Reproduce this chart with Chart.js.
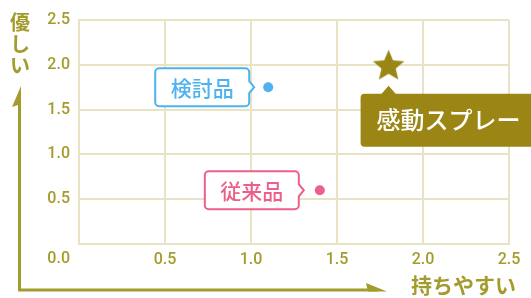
<!DOCTYPE html>
<html lang="ja">
<head>
<meta charset="utf-8">
<script src="https://cdn.jsdelivr.net/npm/chart.js@4/dist/chart.umd.min.js"></script>
<style>
  html, body { margin: 0; padding: 0; background: #ffffff; }
  #wrap { width: 531px; height: 298px; position: relative; }
</style>
</head>
<body>
<div id="wrap"><canvas id="c"></canvas></div>
<script>
// ---- data ----
const products = ['検討品', '従来品', '感動スプレー'];
const easeToHold = [1.1, 1.4, 1.8];      // x: 持ちやすい
const gentleness = [1.75, 0.6, 2.0];     // y: 優しい
const axisMin = 0;
const axisMax = 2.5;
const axisStep = 0.5;
const originLabel = '0.0';
const xTitle = '持ちやすい';
const yTitle = '優しい';

// ---- styles ----
const OLIVE = '#a39b2c';
const GOLD = '#9b8615';
const GRID = '#e9e3c5';
const colors = ['#4db2ee', '#ec5f89', GOLD];
const JP = '"Noto Sans CJK JP", "Noto Sans", sans-serif';

function makeStar(R, r, color) {
  const size = Math.ceil(R * 2 + 2);
  const cv = document.createElement('canvas');
  cv.width = size; cv.height = size;
  const g = cv.getContext('2d');
  g.fillStyle = color;
  g.beginPath();
  for (let i = 0; i < 10; i++) {
    const rad = i % 2 === 0 ? R : r;
    const a = -Math.PI / 2 + i * Math.PI / 5;
    const px = size / 2 + rad * Math.cos(a);
    const py = size / 2 + rad * Math.sin(a) + 1.5;
    if (i === 0) g.moveTo(px, py); else g.lineTo(px, py);
  }
  g.closePath();
  g.lineJoin = 'round';
  g.fill();
  return cv;
}
const starImg = makeStar(16.5, 7.5, GOLD);

const points = products.map((p, i) => ({ x: easeToHold[i], y: gentleness[i] }));

function roundRectPointerRight(ctx, L, T, R, B, r, cy) {
  ctx.beginPath();
  ctx.moveTo(L + r, T);
  ctx.lineTo(R - r, T);
  ctx.arcTo(R, T, R, T + r, r);
  ctx.lineTo(R, cy - 6);
  ctx.lineTo(R + 5, cy);
  ctx.lineTo(R, cy + 6);
  ctx.lineTo(R, B - r);
  ctx.arcTo(R, B, R - r, B, r);
  ctx.lineTo(L + r, B);
  ctx.arcTo(L, B, L, B - r, r);
  ctx.lineTo(L, T + r);
  ctx.arcTo(L, T, L + r, T, r);
  ctx.closePath();
}

const decorPlugin = {
  id: 'decor',
  afterDraw(chart) {
    const ctx = chart.ctx;
    const ca = chart.chartArea;
    const meta = chart.getDatasetMeta(0);
    ctx.save();

    // origin label
    ctx.fillStyle = OLIVE;
    ctx.font = '500 16px Roboto, "Noto Sans", sans-serif';
    ctx.textAlign = 'right';
    ctx.textBaseline = 'middle';
    ctx.fillText(originLabel, ca.left - 9, ca.bottom + 15);

    // axis arrows (L-shape)
    ctx.strokeStyle = OLIVE;
    ctx.fillStyle = OLIVE;
    ctx.lineWidth = 3;
    ctx.lineCap = 'butt';
    ctx.beginPath();
    ctx.moveTo(19.5, 100);
    ctx.lineTo(19.5, 290);
    ctx.lineTo(378, 290);
    ctx.stroke();
    // vertical arrowhead (left barb)
    ctx.beginPath();
    ctx.moveTo(21, 86);
    ctx.lineTo(12, 107);
    ctx.lineTo(21, 104);
    ctx.closePath();
    ctx.fill();
    // horizontal arrowhead (upper barb)
    ctx.beginPath();
    ctx.moveTo(387, 291.5);
    ctx.lineTo(366, 283);
    ctx.lineTo(368, 291.5);
    ctx.closePath();
    ctx.fill();

    // axis titles
    ctx.font = 'bold 20px ' + JP;
    ctx.textAlign = 'center';
    ctx.textBaseline = 'middle';
    const ys = [22, 44, 65];
    [...yTitle].forEach((ch, i) => ctx.fillText(ch, 20, ys[i]));
    ctx.font = 'bold 21px ' + JP;
    ctx.textAlign = 'left';
    ctx.fillText(xTitle, 411, 285);

    // callouts
    meta.data.forEach((el, i) => {
      const px = el.x, py = el.y;
      if (i < 2) {
        const gap = i === 0 ? 19 : 21;
        const w = 94, h = 38;
        const R = px - gap, L = R - w, T = py - h / 2, B = py + h / 2;
        roundRectPointerRight(ctx, L, T, R, B, 4, py);
        ctx.fillStyle = '#ffffff';
        ctx.fill();
        ctx.lineWidth = 2;
        ctx.strokeStyle = colors[i];
        ctx.stroke();
        ctx.fillStyle = colors[i];
        ctx.font = '500 21px ' + JP;
        ctx.textAlign = 'center';
        ctx.textBaseline = 'middle';
        ctx.fillText(products[i], (L + R) / 2, py + 1);
      } else {
        const L = px - 28, T = py + 29, B = py + 82, R = px + 260, r = 4;
        ctx.fillStyle = GOLD;
        ctx.beginPath();
        ctx.moveTo(L + r, T);
        ctx.lineTo(px - 7, T);
        ctx.lineTo(px, py + 21);
        ctx.lineTo(px + 7, T);
        ctx.lineTo(R, T);
        ctx.lineTo(R, B);
        ctx.lineTo(L + r, B);
        ctx.arcTo(L, B, L, B - r, r);
        ctx.lineTo(L, T + r);
        ctx.arcTo(L, T, L + r, T, r);
        ctx.closePath();
        ctx.fill();
        ctx.fillStyle = '#ffffff';
        ctx.font = '500 24px ' + JP;
        ctx.textAlign = 'left';
        ctx.textBaseline = 'middle';
        ctx.fillText(products[i], L + 16, (T + B) / 2);
      }
    });
    ctx.restore();
  }
};

const tickFmt = v => (v === 0 ? '' : Number(v).toFixed(1));

new Chart(document.getElementById('c'), {
  type: 'scatter',
  data: {
    datasets: [{
      data: points,
      backgroundColor: colors,
      borderWidth: 0,
      pointRadius: 5,
      pointStyle: ['circle', 'circle', starImg]
    }]
  },
  options: {
    responsive: true,
    maintainAspectRatio: false,
    animation: false,
    events: [],
    layout: { padding: { left: 0, top: 20, right: 22, bottom: 0 } },
    plugins: { legend: { display: false }, tooltip: { enabled: false } },
    scales: {
      x: {
        type: 'linear',
        min: axisMin, max: axisMax,
        afterFit(s) { s.height = 54; },
        grid: { color: GRID, lineWidth: 2, drawTicks: false },
        border: { color: GRID, width: 2 },
        ticks: {
          stepSize: axisStep,
          padding: 6,
          color: OLIVE,
          font: { family: 'Roboto', size: 16, weight: '500' },
          maxRotation: 0,
          callback: tickFmt
        }
      },
      y: {
        type: 'linear',
        min: axisMin, max: axisMax,
        afterFit(s) { s.width = 79; },
        grid: { color: GRID, lineWidth: 2, drawTicks: false },
        border: { color: GRID, width: 2 },
        ticks: {
          stepSize: axisStep,
          padding: 9,
          color: OLIVE,
          font: { family: 'Roboto', size: 16, weight: '500' },
          callback: tickFmt
        }
      }
    }
  },
  plugins: [decorPlugin]
});
</script>
</body>
</html>
